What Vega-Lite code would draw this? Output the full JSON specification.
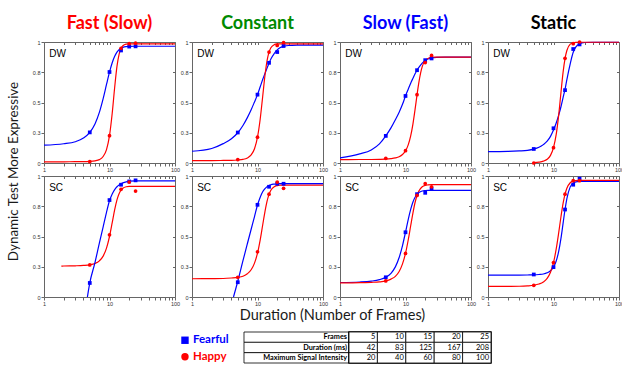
{
"$schema": "https://vega.github.io/schema/vega-lite/v6.json",
"padding": {"left": 5, "top": 14, "right": 0, "bottom": 0},
"spacing": 8,
"config": {
  "view": {"stroke": "#666", "strokeWidth": 1},
  "axis": {"labelFont": "Liberation Sans", "labelFontSize": 5.5, "labelColor": "#333", "tickColor": "#666", "tickSize": 3, "domain": false, "grid": false, "labelPadding": 1, "labelFlush": false, "labelOverlap": false, "titleFont": "Lato", "titleFontWeight": "normal", "titleFontSize": 14.5, "titleColor": "#1a1a1a"},
  "title": {"font": "Lato", "fontSize": 18, "fontWeight": "bold", "offset": 7, "baseline": "alphabetic", "anchor": "middle"}
},
"datasets": {
"fits": [
{"p":"A","x":1,"Fearful":0.147,"Happy":0.010},
{"p":"A","x":2,"Fearful":0.159,"Happy":0.010},
{"p":"A","x":3,"Fearful":0.176,"Happy":0.011},
{"p":"A","x":4,"Fearful":0.206,"Happy":0.011},
{"p":"A","x":5,"Fearful":0.253,"Happy":0.013},
{"p":"A","x":6,"Fearful":0.323,"Happy":0.018},
{"p":"A","x":7,"Fearful":0.418,"Happy":0.028},
{"p":"A","x":8,"Fearful":0.532,"Happy":0.054},
{"p":"A","x":9,"Fearful":0.649,"Happy":0.111},
{"p":"A","x":10,"Fearful":0.751,"Happy":0.226},
{"p":"A","x":11,"Fearful":0.829,"Happy":0.411},
{"p":"A","x":12,"Fearful":0.882,"Happy":0.626},
{"p":"A","x":13,"Fearful":0.916,"Happy":0.798},
{"p":"A","x":14,"Fearful":0.937,"Happy":0.898},
{"p":"A","x":15,"Fearful":0.949,"Happy":0.948},
{"p":"A","x":16,"Fearful":0.956,"Happy":0.969},
{"p":"A","x":18,"Fearful":0.962,"Happy":0.982},
{"p":"A","x":20,"Fearful":0.964,"Happy":0.985},
{"p":"A","x":25,"Fearful":0.965,"Happy":0.985},
{"p":"A","x":40,"Fearful":0.965,"Happy":0.985},
{"p":"A","x":100,"Fearful":0.965,"Happy":0.985},
{"p":"B","x":1.84,"Happy":0.255},
{"p":"B","x":2,"Happy":0.256},
{"p":"B","x":3,"Happy":0.258},
{"p":"B","x":4,"Happy":0.261},
{"p":"B","x":4.6,"Fearful":0},
{"p":"B","x":5,"Fearful":0.116,"Happy":0.266},
{"p":"B","x":6,"Fearful":0.285,"Happy":0.277},
{"p":"B","x":7,"Fearful":0.445,"Happy":0.299},
{"p":"B","x":8,"Fearful":0.58,"Happy":0.338},
{"p":"B","x":9,"Fearful":0.70,"Happy":0.404},
{"p":"B","x":10,"Fearful":0.795,"Happy":0.500},
{"p":"B","x":11,"Fearful":0.852,"Happy":0.614},
{"p":"B","x":12,"Fearful":0.888,"Happy":0.722},
{"p":"B","x":13,"Fearful":0.911,"Happy":0.803},
{"p":"B","x":14,"Fearful":0.926,"Happy":0.854},
{"p":"B","x":15,"Fearful":0.936,"Happy":0.884},
{"p":"B","x":16,"Fearful":0.943,"Happy":0.899},
{"p":"B","x":18,"Fearful":0.952,"Happy":0.911},
{"p":"B","x":20,"Fearful":0.957,"Happy":0.914},
{"p":"B","x":25,"Fearful":0.96,"Happy":0.915},
{"p":"B","x":40,"Fearful":0.96,"Happy":0.915},
{"p":"B","x":100,"Fearful":0.96,"Happy":0.915},
{"p":"C","x":1,"Fearful":0.097,"Happy":0.020},
{"p":"C","x":2,"Fearful":0.12,"Happy":0.020},
{"p":"C","x":3,"Fearful":0.16,"Happy":0.021},
{"p":"C","x":4,"Fearful":0.20,"Happy":0.022},
{"p":"C","x":5,"Fearful":0.25,"Happy":0.025},
{"p":"C","x":6,"Fearful":0.31,"Happy":0.030},
{"p":"C","x":7,"Fearful":0.375,"Happy":0.042},
{"p":"C","x":8,"Fearful":0.44,"Happy":0.067},
{"p":"C","x":9,"Fearful":0.505,"Happy":0.118},
{"p":"C","x":10,"Fearful":0.565,"Happy":0.214},
{"p":"C","x":11,"Fearful":0.63,"Happy":0.364},
{"p":"C","x":12,"Fearful":0.69,"Happy":0.550},
{"p":"C","x":13,"Fearful":0.74,"Happy":0.723},
{"p":"C","x":14,"Fearful":0.785,"Happy":0.846},
{"p":"C","x":15,"Fearful":0.825,"Happy":0.916},
{"p":"C","x":16,"Fearful":0.86,"Happy":0.952},
{"p":"C","x":18,"Fearful":0.905,"Happy":0.978},
{"p":"C","x":20,"Fearful":0.935,"Happy":0.984},
{"p":"C","x":22,"Fearful":0.952,"Happy":0.985},
{"p":"C","x":25,"Fearful":0.963,"Happy":0.985},
{"p":"C","x":30,"Fearful":0.971,"Happy":0.985},
{"p":"C","x":40,"Fearful":0.974,"Happy":0.985},
{"p":"C","x":60,"Fearful":0.975,"Happy":0.985},
{"p":"C","x":100,"Fearful":0.975,"Happy":0.985},
{"p":"D","x":1,"Fearful":0.042,"Happy":0.028},
{"p":"D","x":2,"Fearful":0.075,"Happy":0.029},
{"p":"D","x":3,"Fearful":0.108,"Happy":0.029},
{"p":"D","x":4,"Fearful":0.158,"Happy":0.030},
{"p":"D","x":5,"Fearful":0.224,"Happy":0.032},
{"p":"D","x":6,"Fearful":0.29,"Happy":0.036},
{"p":"D","x":7,"Fearful":0.357,"Happy":0.042},
{"p":"D","x":8,"Fearful":0.42,"Happy":0.052},
{"p":"D","x":9,"Fearful":0.485,"Happy":0.070},
{"p":"D","x":10,"Fearful":0.554,"Happy":0.100},
{"p":"D","x":11,"Fearful":0.61,"Happy":0.150},
{"p":"D","x":12,"Fearful":0.66,"Happy":0.224},
{"p":"D","x":13,"Fearful":0.70,"Happy":0.324},
{"p":"D","x":14,"Fearful":0.737,"Happy":0.443},
{"p":"D","x":15,"Fearful":0.767,"Happy":0.563},
{"p":"D","x":16,"Fearful":0.79,"Happy":0.666},
{"p":"D","x":18,"Fearful":0.825,"Happy":0.796},
{"p":"D","x":20,"Fearful":0.848,"Happy":0.847},
{"p":"D","x":22,"Fearful":0.86,"Happy":0.864},
{"p":"D","x":25,"Fearful":0.868,"Happy":0.874},
{"p":"D","x":30,"Fearful":0.873,"Happy":0.875},
{"p":"D","x":40,"Fearful":0.875,"Happy":0.875},
{"p":"D","x":100,"Fearful":0.875,"Happy":0.875},
{"p":"E","x":1,"Fearful":0.094},
{"p":"E","x":2,"Fearful":0.096},
{"p":"E","x":3,"Fearful":0.10},
{"p":"E","x":4,"Fearful":0.105},
{"p":"E","x":5,"Fearful":0.115,"Happy":0.003},
{"p":"E","x":6,"Fearful":0.13,"Happy":0.007},
{"p":"E","x":7,"Fearful":0.152,"Happy":0.015},
{"p":"E","x":8,"Fearful":0.18,"Happy":0.031},
{"p":"E","x":9,"Fearful":0.22,"Happy":0.063},
{"p":"E","x":10,"Fearful":0.272,"Happy":0.127},
{"p":"E","x":11,"Fearful":0.33,"Happy":0.236},
{"p":"E","x":12,"Fearful":0.395,"Happy":0.396},
{"p":"E","x":13,"Fearful":0.465,"Happy":0.583},
{"p":"E","x":14,"Fearful":0.54,"Happy":0.749},
{"p":"E","x":15,"Fearful":0.61,"Happy":0.863},
{"p":"E","x":16,"Fearful":0.69,"Happy":0.930},
{"p":"E","x":18,"Fearful":0.82,"Happy":0.982},
{"p":"E","x":20,"Fearful":0.915,"Happy":0.994},
{"p":"E","x":22,"Fearful":0.96,"Happy":0.997},
{"p":"E","x":25,"Fearful":0.985,"Happy":0.998},
{"p":"E","x":30,"Fearful":0.996,"Happy":0.998},
{"p":"E","x":40,"Fearful":0.998,"Happy":0.998},
{"p":"E","x":100,"Fearful":0.998,"Happy":0.998},
{"p":"F","x":1,"Happy":0.151},
{"p":"F","x":2,"Happy":0.152},
{"p":"F","x":3,"Happy":0.153},
{"p":"F","x":4,"Happy":0.157},
{"p":"F","x":4.3,"Fearful":0},
{"p":"F","x":5,"Fearful":0.13,"Happy":0.162},
{"p":"F","x":6,"Fearful":0.30,"Happy":0.172},
{"p":"F","x":7,"Fearful":0.44,"Happy":0.192},
{"p":"F","x":8,"Fearful":0.56,"Happy":0.225},
{"p":"F","x":9,"Fearful":0.665,"Happy":0.280},
{"p":"F","x":10,"Fearful":0.76,"Happy":0.363},
{"p":"F","x":11,"Fearful":0.825,"Happy":0.473},
{"p":"F","x":12,"Fearful":0.87,"Happy":0.595},
{"p":"F","x":13,"Fearful":0.895,"Happy":0.706},
{"p":"F","x":14,"Fearful":0.912,"Happy":0.792},
{"p":"F","x":15,"Fearful":0.922,"Happy":0.848},
{"p":"F","x":16,"Fearful":0.928,"Happy":0.882},
{"p":"F","x":18,"Fearful":0.933,"Happy":0.912},
{"p":"F","x":20,"Fearful":0.936,"Happy":0.921},
{"p":"F","x":22,"Fearful":0.937,"Happy":0.924},
{"p":"F","x":25,"Fearful":0.937,"Happy":0.925},
{"p":"F","x":40,"Fearful":0.937,"Happy":0.925},
{"p":"F","x":100,"Fearful":0.937,"Happy":0.925},
{"p":"G","x":1,"Fearful":0.120,"Happy":0.117},
{"p":"G","x":2,"Fearful":0.124,"Happy":0.118},
{"p":"G","x":3,"Fearful":0.131,"Happy":0.121},
{"p":"G","x":4,"Fearful":0.143,"Happy":0.125},
{"p":"G","x":5,"Fearful":0.163,"Happy":0.133},
{"p":"G","x":6,"Fearful":0.196,"Happy":0.148},
{"p":"G","x":7,"Fearful":0.249,"Happy":0.171},
{"p":"G","x":8,"Fearful":0.326,"Happy":0.211},
{"p":"G","x":9,"Fearful":0.425,"Happy":0.274},
{"p":"G","x":10,"Fearful":0.535,"Happy":0.360},
{"p":"G","x":11,"Fearful":0.640,"Happy":0.471},
{"p":"G","x":12,"Fearful":0.724,"Happy":0.589},
{"p":"G","x":13,"Fearful":0.785,"Happy":0.696},
{"p":"G","x":14,"Fearful":0.824,"Happy":0.781},
{"p":"G","x":15,"Fearful":0.849,"Happy":0.839},
{"p":"G","x":16,"Fearful":0.863,"Happy":0.876},
{"p":"G","x":18,"Fearful":0.876,"Happy":0.911},
{"p":"G","x":20,"Fearful":0.880,"Happy":0.923},
{"p":"G","x":22,"Fearful":0.882,"Happy":0.926},
{"p":"G","x":25,"Fearful":0.882,"Happy":0.928},
{"p":"G","x":40,"Fearful":0.882,"Happy":0.928},
{"p":"G","x":100,"Fearful":0.882,"Happy":0.928},
{"p":"H","x":1,"Fearful":0.180,"Happy":0.087},
{"p":"H","x":2,"Fearful":0.180,"Happy":0.088},
{"p":"H","x":3,"Fearful":0.181,"Happy":0.089},
{"p":"H","x":4,"Fearful":0.182,"Happy":0.092},
{"p":"H","x":5,"Fearful":0.183,"Happy":0.097},
{"p":"H","x":6,"Fearful":0.186,"Happy":0.107},
{"p":"H","x":7,"Fearful":0.190,"Happy":0.124},
{"p":"H","x":8,"Fearful":0.200,"Happy":0.154},
{"p":"H","x":9,"Fearful":0.217,"Happy":0.205},
{"p":"H","x":10,"Fearful":0.247,"Happy":0.284},
{"p":"H","x":11,"Fearful":0.298,"Happy":0.397},
{"p":"H","x":12,"Fearful":0.377,"Happy":0.530},
{"p":"H","x":13,"Fearful":0.484,"Happy":0.663},
{"p":"H","x":14,"Fearful":0.608,"Happy":0.773},
{"p":"H","x":15,"Fearful":0.723,"Happy":0.850},
{"p":"H","x":16,"Fearful":0.813,"Happy":0.899},
{"p":"H","x":18,"Fearful":0.910,"Happy":0.944},
{"p":"H","x":20,"Fearful":0.943,"Happy":0.958},
{"p":"H","x":22,"Fearful":0.952,"Happy":0.962},
{"p":"H","x":25,"Fearful":0.955,"Happy":0.964},
{"p":"H","x":30,"Fearful":0.956,"Happy":0.964},
{"p":"H","x":100,"Fearful":0.956,"Happy":0.964}
],
"obs": [
{"p":"A","x":5,"Fearful":0.253,"Happy":0.011},
{"p":"A","x":10,"Fearful":0.752,"Happy":0.226},
{"p":"A","x":15,"Fearful":0.93,"Happy":0.948},
{"p":"A","x":20,"Fearful":0.962,"Happy":0.986},
{"p":"A","x":25,"Fearful":0.964,"Happy":0.99},
{"p":"B","x":5,"Fearful":0.116,"Happy":0.265},
{"p":"B","x":10,"Fearful":0.801,"Happy":0.514},
{"p":"B","x":15,"Fearful":0.928,"Happy":0.89},
{"p":"B","x":20,"Fearful":0.955,"Happy":0.95},
{"p":"B","x":25,"Fearful":0.964,"Happy":0.876},
{"p":"C","x":5,"Fearful":0.252,"Happy":0.028},
{"p":"C","x":10,"Fearful":0.565,"Happy":0.213},
{"p":"C","x":15,"Fearful":0.828,"Happy":0.917},
{"p":"C","x":20,"Fearful":0.917,"Happy":0.972},
{"p":"C","x":25,"Fearful":0.967,"Happy":0.994},
{"p":"D","x":5,"Fearful":0.224,"Happy":0.039},
{"p":"D","x":10,"Fearful":0.554,"Happy":0.102},
{"p":"D","x":15,"Fearful":0.767,"Happy":0.565},
{"p":"D","x":20,"Fearful":0.85,"Happy":0.83},
{"p":"D","x":25,"Fearful":0.864,"Happy":0.889},
{"p":"E","x":5,"Fearful":0.116,"Happy":0.0},
{"p":"E","x":10,"Fearful":0.287,"Happy":0.127},
{"p":"E","x":15,"Fearful":0.602,"Happy":0.865},
{"p":"E","x":20,"Fearful":0.942,"Happy":0.986},
{"p":"E","x":25,"Fearful":0.98,"Happy":1.0},
{"p":"F","x":5,"Fearful":0.122,"Happy":0.163},
{"p":"F","x":10,"Fearful":0.762,"Happy":0.374},
{"p":"F","x":15,"Fearful":0.911,"Happy":0.85},
{"p":"F","x":20,"Fearful":0.936,"Happy":0.95},
{"p":"F","x":25,"Fearful":0.936,"Happy":0.898},
{"p":"G","x":5,"Fearful":0.163,"Happy":0.133},
{"p":"G","x":10,"Fearful":0.535,"Happy":0.36},
{"p":"G","x":15,"Fearful":0.85,"Happy":0.839},
{"p":"G","x":20,"Fearful":0.861,"Happy":0.936},
{"p":"G","x":25,"Fearful":0.895,"Happy":0.911},
{"p":"H","x":5,"Fearful":0.186,"Happy":0.097},
{"p":"H","x":10,"Fearful":0.247,"Happy":0.285},
{"p":"H","x":15,"Fearful":0.723,"Happy":0.85},
{"p":"H","x":20,"Fearful":0.928,"Happy":0.961},
{"p":"H","x":25,"Fearful":0.978,"Happy":0.961}
],
"table": [
{"row":"Frames","col":"label","v":"Frames"},
{"row":"Duration (ms)","col":"label","v":"Duration (ms)"},
{"row":"Maximum Signal Intensity","col":"label","v":"Maximum Signal Intensity"},
{"row":"Frames","col":"5","v":"5"},
{"row":"Frames","col":"10","v":"10"},
{"row":"Frames","col":"15","v":"15"},
{"row":"Frames","col":"20","v":"20"},
{"row":"Frames","col":"25","v":"25"},
{"row":"Duration (ms)","col":"5","v":"42"},
{"row":"Duration (ms)","col":"10","v":"83"},
{"row":"Duration (ms)","col":"15","v":"125"},
{"row":"Duration (ms)","col":"20","v":"167"},
{"row":"Duration (ms)","col":"25","v":"208"},
{"row":"Maximum Signal Intensity","col":"5","v":"20"},
{"row":"Maximum Signal Intensity","col":"10","v":"40"},
{"row":"Maximum Signal Intensity","col":"15","v":"60"},
{"row":"Maximum Signal Intensity","col":"20","v":"80"},
{"row":"Maximum Signal Intensity","col":"25","v":"100"}
],
"legend": [
{"emotion":"Fearful","k":"k"},
{"emotion":"Happy","k":"k"}
]
},
"vconcat": [
{"bounds": "flush", "spacing": {"row": 13, "column": 17}, "columns": 4, "concat": [
{"width":131,"height":121,"title":{"text":"Fast (Slow)","color":"#ff0000"},"resolve":{"axis":{"x":"independent","y":"independent"}},
 "layer":[
  {"data":{"name":"fits"},"transform":[{"filter":"datum.p=='A'"},{"fold":["Fearful","Happy"],"as":["emotion","value"]},{"filter":"isValid(datum.value)"}],
   "mark":{"type":"line","strokeWidth":1.2,"interpolate":"monotone"},
   "encoding":{"x":{"field":"x","type":"quantitative","scale":{"type":"log","domain":[1,100]},"axis":{"values":[1,2,3,4,5,6,7,8,9,10,20,30,40,50,60,70,80,90,100],"format":"~g","labelExpr":"datum.value==1||datum.value==10||datum.value==100 ? datum.label : ''","title":null}},
    "y":{"field":"value","type":"quantitative","scale":{"domain":[0,1]},"axis":{"values":[0,0.25,0.5,0.75,1],"format":"~g","title":"Dynamic Test More Expressive","titleFontSize":13.4,"titleX":-27,"titleY":129,"titleAngle":270,"titleAlign":"center","titleBaseline":"alphabetic"}},
    "color":{"field":"emotion","type":"nominal","scale":{"domain":["Fearful","Happy"],"range":["#0000ff","#ff0000"]},"legend":null}}},
  {"data":{"name":"obs"},"transform":[{"filter":"datum.p=='A'"},{"fold":["Fearful","Happy"],"as":["emotion","value"]}],
   "mark":{"type":"point","filled":true,"size":14,"opacity":1},
   "encoding":{"x":{"field":"x","type":"quantitative","axis":{"orient":"top","values":[1,2,3,4,5,6,7,8,9,10,20,30,40,50,60,70,80,90,100],"labels":false,"tickSize":-2.5,"title":null}},"y":{"field":"value","type":"quantitative","axis":{"orient":"right","values":[0,0.25,0.5,0.75,1],"labels":false,"tickSize":-2.5,"title":null}},
    "color":{"field":"emotion","type":"nominal","legend":null},
    "shape":{"field":"emotion","type":"nominal","legend":null,"scale":{"domain":["Fearful","Happy"],"range":["square","circle"]}}}},
  {"data":{"values":[{"t":"DW"}]},"mark":{"type":"text","align":"left","baseline":"middle","fontSize":10,"font":"Liberation Sans"},
   "encoding":{"x":{"datum":1.2,"type":"quantitative","axis":null},"y":{"datum":0.9,"type":"quantitative","axis":null},"text":{"field":"t"}}}
 ]},
{"width":131,"height":121,"title":{"text":"Constant","color":"#008a00"},"resolve":{"axis":{"x":"independent","y":"independent"}},
 "layer":[
  {"data":{"name":"fits"},"transform":[{"filter":"datum.p=='C'"},{"fold":["Fearful","Happy"],"as":["emotion","value"]},{"filter":"isValid(datum.value)"}],
   "mark":{"type":"line","strokeWidth":1.2,"interpolate":"monotone"},
   "encoding":{"x":{"field":"x","type":"quantitative","scale":{"type":"log","domain":[1,100]},"axis":{"values":[1,2,3,4,5,6,7,8,9,10,20,30,40,50,60,70,80,90,100],"format":"~g","labelExpr":"datum.value==1||datum.value==10||datum.value==100 ? datum.label : ''","title":null}},
    "y":{"field":"value","type":"quantitative","scale":{"domain":[0,1]},"axis":{"values":[0,0.25,0.5,0.75,1],"format":"~g","title":null}},
    "color":{"field":"emotion","type":"nominal","scale":{"domain":["Fearful","Happy"],"range":["#0000ff","#ff0000"]},"legend":null}}},
  {"data":{"name":"obs"},"transform":[{"filter":"datum.p=='C'"},{"fold":["Fearful","Happy"],"as":["emotion","value"]}],
   "mark":{"type":"point","filled":true,"size":14,"opacity":1},
   "encoding":{"x":{"field":"x","type":"quantitative","axis":{"orient":"top","values":[1,2,3,4,5,6,7,8,9,10,20,30,40,50,60,70,80,90,100],"labels":false,"tickSize":-2.5,"title":null}},"y":{"field":"value","type":"quantitative","axis":{"orient":"right","values":[0,0.25,0.5,0.75,1],"labels":false,"tickSize":-2.5,"title":null}},
    "color":{"field":"emotion","type":"nominal","legend":null},
    "shape":{"field":"emotion","type":"nominal","legend":null,"scale":{"domain":["Fearful","Happy"],"range":["square","circle"]}}}},
  {"data":{"values":[{"t":"DW"}]},"mark":{"type":"text","align":"left","baseline":"middle","fontSize":10,"font":"Liberation Sans"},
   "encoding":{"x":{"datum":1.2,"type":"quantitative","axis":null},"y":{"datum":0.9,"type":"quantitative","axis":null},"text":{"field":"t"}}}
 ]},
{"width":131,"height":121,"title":{"text":"Slow (Fast)","color":"#0000ff"},"resolve":{"axis":{"x":"independent","y":"independent"}},
 "layer":[
  {"data":{"name":"fits"},"transform":[{"filter":"datum.p=='D'"},{"fold":["Fearful","Happy"],"as":["emotion","value"]},{"filter":"isValid(datum.value)"}],
   "mark":{"type":"line","strokeWidth":1.2,"interpolate":"monotone"},
   "encoding":{"x":{"field":"x","type":"quantitative","scale":{"type":"log","domain":[1,100]},"axis":{"values":[1,2,3,4,5,6,7,8,9,10,20,30,40,50,60,70,80,90,100],"format":"~g","labelExpr":"datum.value==1||datum.value==10||datum.value==100 ? datum.label : ''","title":null}},
    "y":{"field":"value","type":"quantitative","scale":{"domain":[0,1]},"axis":{"values":[0,0.25,0.5,0.75,1],"format":"~g","title":null}},
    "color":{"field":"emotion","type":"nominal","scale":{"domain":["Fearful","Happy"],"range":["#0000ff","#ff0000"]},"legend":null}}},
  {"data":{"name":"obs"},"transform":[{"filter":"datum.p=='D'"},{"fold":["Fearful","Happy"],"as":["emotion","value"]}],
   "mark":{"type":"point","filled":true,"size":14,"opacity":1},
   "encoding":{"x":{"field":"x","type":"quantitative","axis":{"orient":"top","values":[1,2,3,4,5,6,7,8,9,10,20,30,40,50,60,70,80,90,100],"labels":false,"tickSize":-2.5,"title":null}},"y":{"field":"value","type":"quantitative","axis":{"orient":"right","values":[0,0.25,0.5,0.75,1],"labels":false,"tickSize":-2.5,"title":null}},
    "color":{"field":"emotion","type":"nominal","legend":null},
    "shape":{"field":"emotion","type":"nominal","legend":null,"scale":{"domain":["Fearful","Happy"],"range":["square","circle"]}}}},
  {"data":{"values":[{"t":"DW"}]},"mark":{"type":"text","align":"left","baseline":"middle","fontSize":10,"font":"Liberation Sans"},
   "encoding":{"x":{"datum":1.2,"type":"quantitative","axis":null},"y":{"datum":0.9,"type":"quantitative","axis":null},"text":{"field":"t"}}}
 ]},
{"width":131,"height":121,"title":{"text":"Static","color":"#000000"},"resolve":{"axis":{"x":"independent","y":"independent"}},
 "layer":[
  {"data":{"name":"fits"},"transform":[{"filter":"datum.p=='E'"},{"fold":["Fearful","Happy"],"as":["emotion","value"]},{"filter":"isValid(datum.value)"}],
   "mark":{"type":"line","strokeWidth":1.2,"interpolate":"monotone"},
   "encoding":{"x":{"field":"x","type":"quantitative","scale":{"type":"log","domain":[1,100]},"axis":{"values":[1,2,3,4,5,6,7,8,9,10,20,30,40,50,60,70,80,90,100],"format":"~g","labelExpr":"datum.value==1||datum.value==10||datum.value==100 ? datum.label : ''","title":null}},
    "y":{"field":"value","type":"quantitative","scale":{"domain":[0,1]},"axis":{"values":[0,0.25,0.5,0.75,1],"format":"~g","title":null}},
    "color":{"field":"emotion","type":"nominal","scale":{"domain":["Fearful","Happy"],"range":["#0000ff","#ff0000"]},"legend":null}}},
  {"data":{"name":"obs"},"transform":[{"filter":"datum.p=='E'"},{"fold":["Fearful","Happy"],"as":["emotion","value"]}],
   "mark":{"type":"point","filled":true,"size":14,"opacity":1},
   "encoding":{"x":{"field":"x","type":"quantitative","axis":{"orient":"top","values":[1,2,3,4,5,6,7,8,9,10,20,30,40,50,60,70,80,90,100],"labels":false,"tickSize":-2.5,"title":null}},"y":{"field":"value","type":"quantitative","axis":{"orient":"right","values":[0,0.25,0.5,0.75,1],"labels":false,"tickSize":-2.5,"title":null}},
    "color":{"field":"emotion","type":"nominal","legend":null},
    "shape":{"field":"emotion","type":"nominal","legend":null,"scale":{"domain":["Fearful","Happy"],"range":["square","circle"]}}}},
  {"data":{"values":[{"t":"DW"}]},"mark":{"type":"text","align":"left","baseline":"middle","fontSize":10,"font":"Liberation Sans"},
   "encoding":{"x":{"datum":1.2,"type":"quantitative","axis":null},"y":{"datum":0.9,"type":"quantitative","axis":null},"text":{"field":"t"}}}
 ]},
{"width":131,"height":121,"resolve":{"axis":{"x":"independent","y":"independent"}},
 "layer":[
  {"data":{"name":"fits"},"transform":[{"filter":"datum.p=='B'"},{"fold":["Fearful","Happy"],"as":["emotion","value"]},{"filter":"isValid(datum.value)"}],
   "mark":{"type":"line","strokeWidth":1.2,"interpolate":"monotone"},
   "encoding":{"x":{"field":"x","type":"quantitative","scale":{"type":"log","domain":[1,100]},"axis":{"values":[1,2,3,4,5,6,7,8,9,10,20,30,40,50,60,70,80,90,100],"format":"~g","labelExpr":"datum.value==1||datum.value==10||datum.value==100 ? datum.label : ''","title":null}},
    "y":{"field":"value","type":"quantitative","scale":{"domain":[0,1]},"axis":{"values":[0,0.25,0.5,0.75,1],"format":"~g","title":null}},
    "color":{"field":"emotion","type":"nominal","scale":{"domain":["Fearful","Happy"],"range":["#0000ff","#ff0000"]},"legend":null}}},
  {"data":{"name":"obs"},"transform":[{"filter":"datum.p=='B'"},{"fold":["Fearful","Happy"],"as":["emotion","value"]}],
   "mark":{"type":"point","filled":true,"size":14,"opacity":1},
   "encoding":{"x":{"field":"x","type":"quantitative","axis":{"orient":"top","values":[1,2,3,4,5,6,7,8,9,10,20,30,40,50,60,70,80,90,100],"labels":false,"tickSize":-2.5,"title":null}},"y":{"field":"value","type":"quantitative","axis":{"orient":"right","values":[0,0.25,0.5,0.75,1],"labels":false,"tickSize":-2.5,"title":null}},
    "color":{"field":"emotion","type":"nominal","legend":null},
    "shape":{"field":"emotion","type":"nominal","legend":null,"scale":{"domain":["Fearful","Happy"],"range":["square","circle"]}}}},
  {"data":{"values":[{"t":"SC"}]},"mark":{"type":"text","align":"left","baseline":"middle","fontSize":10,"font":"Liberation Sans"},
   "encoding":{"x":{"datum":1.2,"type":"quantitative","axis":null},"y":{"datum":0.9,"type":"quantitative","axis":null},"text":{"field":"t"}}}
 ]},
{"width":131,"height":121,"resolve":{"axis":{"x":"independent","y":"independent"}},
 "layer":[
  {"data":{"name":"fits"},"transform":[{"filter":"datum.p=='F'"},{"fold":["Fearful","Happy"],"as":["emotion","value"]},{"filter":"isValid(datum.value)"}],
   "mark":{"type":"line","strokeWidth":1.2,"interpolate":"monotone"},
   "encoding":{"x":{"field":"x","type":"quantitative","scale":{"type":"log","domain":[1,100]},"axis":{"values":[1,2,3,4,5,6,7,8,9,10,20,30,40,50,60,70,80,90,100],"format":"~g","labelExpr":"datum.value==1||datum.value==10||datum.value==100 ? datum.label : ''","title":"Duration (Number of Frames)","titleX":140,"titleY":22,"titleAlign":"center","titleBaseline":"alphabetic"}},
    "y":{"field":"value","type":"quantitative","scale":{"domain":[0,1]},"axis":{"values":[0,0.25,0.5,0.75,1],"format":"~g","title":null}},
    "color":{"field":"emotion","type":"nominal","scale":{"domain":["Fearful","Happy"],"range":["#0000ff","#ff0000"]},"legend":null}}},
  {"data":{"name":"obs"},"transform":[{"filter":"datum.p=='F'"},{"fold":["Fearful","Happy"],"as":["emotion","value"]}],
   "mark":{"type":"point","filled":true,"size":14,"opacity":1},
   "encoding":{"x":{"field":"x","type":"quantitative","axis":{"orient":"top","values":[1,2,3,4,5,6,7,8,9,10,20,30,40,50,60,70,80,90,100],"labels":false,"tickSize":-2.5,"title":null}},"y":{"field":"value","type":"quantitative","axis":{"orient":"right","values":[0,0.25,0.5,0.75,1],"labels":false,"tickSize":-2.5,"title":null}},
    "color":{"field":"emotion","type":"nominal","legend":null},
    "shape":{"field":"emotion","type":"nominal","legend":null,"scale":{"domain":["Fearful","Happy"],"range":["square","circle"]}}}},
  {"data":{"values":[{"t":"SC"}]},"mark":{"type":"text","align":"left","baseline":"middle","fontSize":10,"font":"Liberation Sans"},
   "encoding":{"x":{"datum":1.2,"type":"quantitative","axis":null},"y":{"datum":0.9,"type":"quantitative","axis":null},"text":{"field":"t"}}}
 ]},
{"width":131,"height":121,"resolve":{"axis":{"x":"independent","y":"independent"}},
 "layer":[
  {"data":{"name":"fits"},"transform":[{"filter":"datum.p=='G'"},{"fold":["Fearful","Happy"],"as":["emotion","value"]},{"filter":"isValid(datum.value)"}],
   "mark":{"type":"line","strokeWidth":1.2,"interpolate":"monotone"},
   "encoding":{"x":{"field":"x","type":"quantitative","scale":{"type":"log","domain":[1,100]},"axis":{"values":[1,2,3,4,5,6,7,8,9,10,20,30,40,50,60,70,80,90,100],"format":"~g","labelExpr":"datum.value==1||datum.value==10||datum.value==100 ? datum.label : ''","title":null}},
    "y":{"field":"value","type":"quantitative","scale":{"domain":[0,1]},"axis":{"values":[0,0.25,0.5,0.75,1],"format":"~g","title":null}},
    "color":{"field":"emotion","type":"nominal","scale":{"domain":["Fearful","Happy"],"range":["#0000ff","#ff0000"]},"legend":null}}},
  {"data":{"name":"obs"},"transform":[{"filter":"datum.p=='G'"},{"fold":["Fearful","Happy"],"as":["emotion","value"]}],
   "mark":{"type":"point","filled":true,"size":14,"opacity":1},
   "encoding":{"x":{"field":"x","type":"quantitative","axis":{"orient":"top","values":[1,2,3,4,5,6,7,8,9,10,20,30,40,50,60,70,80,90,100],"labels":false,"tickSize":-2.5,"title":null}},"y":{"field":"value","type":"quantitative","axis":{"orient":"right","values":[0,0.25,0.5,0.75,1],"labels":false,"tickSize":-2.5,"title":null}},
    "color":{"field":"emotion","type":"nominal","legend":null},
    "shape":{"field":"emotion","type":"nominal","legend":null,"scale":{"domain":["Fearful","Happy"],"range":["square","circle"]}}}},
  {"data":{"values":[{"t":"SC"}]},"mark":{"type":"text","align":"left","baseline":"middle","fontSize":10,"font":"Liberation Sans"},
   "encoding":{"x":{"datum":1.2,"type":"quantitative","axis":null},"y":{"datum":0.9,"type":"quantitative","axis":null},"text":{"field":"t"}}}
 ]},
{"width":131,"height":121,"resolve":{"axis":{"x":"independent","y":"independent"}},
 "layer":[
  {"data":{"name":"fits"},"transform":[{"filter":"datum.p=='H'"},{"fold":["Fearful","Happy"],"as":["emotion","value"]},{"filter":"isValid(datum.value)"}],
   "mark":{"type":"line","strokeWidth":1.2,"interpolate":"monotone"},
   "encoding":{"x":{"field":"x","type":"quantitative","scale":{"type":"log","domain":[1,100]},"axis":{"values":[1,2,3,4,5,6,7,8,9,10,20,30,40,50,60,70,80,90,100],"format":"~g","labelExpr":"datum.value==1||datum.value==10||datum.value==100 ? datum.label : ''","title":null}},
    "y":{"field":"value","type":"quantitative","scale":{"domain":[0,1]},"axis":{"values":[0,0.25,0.5,0.75,1],"format":"~g","title":null}},
    "color":{"field":"emotion","type":"nominal","scale":{"domain":["Fearful","Happy"],"range":["#0000ff","#ff0000"]},"legend":null}}},
  {"data":{"name":"obs"},"transform":[{"filter":"datum.p=='H'"},{"fold":["Fearful","Happy"],"as":["emotion","value"]}],
   "mark":{"type":"point","filled":true,"size":14,"opacity":1},
   "encoding":{"x":{"field":"x","type":"quantitative","axis":{"orient":"top","values":[1,2,3,4,5,6,7,8,9,10,20,30,40,50,60,70,80,90,100],"labels":false,"tickSize":-2.5,"title":null}},"y":{"field":"value","type":"quantitative","axis":{"orient":"right","values":[0,0.25,0.5,0.75,1],"labels":false,"tickSize":-2.5,"title":null}},
    "color":{"field":"emotion","type":"nominal","legend":null},
    "shape":{"field":"emotion","type":"nominal","legend":null,"scale":{"domain":["Fearful","Happy"],"range":["square","circle"]}}}},
  {"data":{"values":[{"t":"SC"}]},"mark":{"type":"text","align":"left","baseline":"middle","fontSize":10,"font":"Liberation Sans"},
   "encoding":{"x":{"datum":1.2,"type":"quantitative","axis":null},"y":{"datum":0.9,"type":"quantitative","axis":null},"text":{"field":"t"}}}
 ]}
]},
{"bounds": "flush", "spacing": 0, "hconcat": [
{"width":190,"height":33,"data":{"name":"legend"},"view":{"stroke":null},
 "encoding":{"x":{"field":"k","type":"nominal","scale":{"type":"band","domain":["k"],"paddingInner":0,"paddingOuter":0.469,"align":1},"axis":null},
  "y":{"field":"emotion","type":"nominal","scale":{"type":"point","domain":["Fearful","Happy"],"padding":0.5},"axis":null}},
 "layer":[
  {"mark":{"type":"point","filled":true,"size":55,"opacity":1},
   "encoding":{"color":{"field":"emotion","type":"nominal","legend":null},"shape":{"field":"emotion","type":"nominal","legend":null}}},
  {"mark":{"type":"text","align":"left","baseline":"middle","dx":8,"fontSize":11.5,"fontWeight":"bold","font":"Lato"},
   "encoding":{"text":{"field":"emotion"},"color":{"field":"emotion","type":"nominal","legend":null}}}
 ]},
{"width":115,"height":31,"data":{"name":"table"},"transform":[{"filter":"datum.col=='label'"}],
 "view":{"stroke":null},
 "encoding":{"x":{"field":"col","type":"nominal","scale":{"type":"band","domain":["label"],"paddingInner":0,"paddingOuter":0.0476,"align":1},"axis":null},
  "y":{"field":"row","type":"nominal","scale":{"type":"band","domain":["Frames","Duration (ms)","Maximum Signal Intensity"],"paddingInner":0,"paddingOuter":0},"axis":null}},
 "layer":[
  {"mark":{"type":"rect","fill":"white","stroke":"black","strokeWidth":0.8}},
  {"mark":{"type":"text","align":"right","dx":-2,"fontSize":7.3,"fontWeight":"bold","font":"Lato"},
   "encoding":{"x":{"field":"col","type":"nominal","bandPosition":1},"text":{"field":"v"}}}
 ]},
{"width":142,"height":31,"data":{"name":"table"},"transform":[{"filter":"datum.col!='label'"}],
 "view":{"stroke":"black","strokeWidth":1.5},
 "encoding":{"x":{"field":"col","type":"nominal","scale":{"type":"band","domain":["5","10","15","20","25"],"paddingInner":0,"paddingOuter":0},"axis":null},
  "y":{"field":"row","type":"nominal","scale":{"type":"band","domain":["Frames","Duration (ms)","Maximum Signal Intensity"],"paddingInner":0,"paddingOuter":0},"axis":null}},
 "layer":[
  {"mark":{"type":"rect","fill":"white","stroke":"black","strokeWidth":0.8}},
  {"mark":{"type":"text","align":"right","dx":-2,"fontSize":7.5,"font":"Lato"},
   "encoding":{"x":{"field":"col","type":"nominal","bandPosition":1},"text":{"field":"v"}}}
 ]}
]}
]
}
